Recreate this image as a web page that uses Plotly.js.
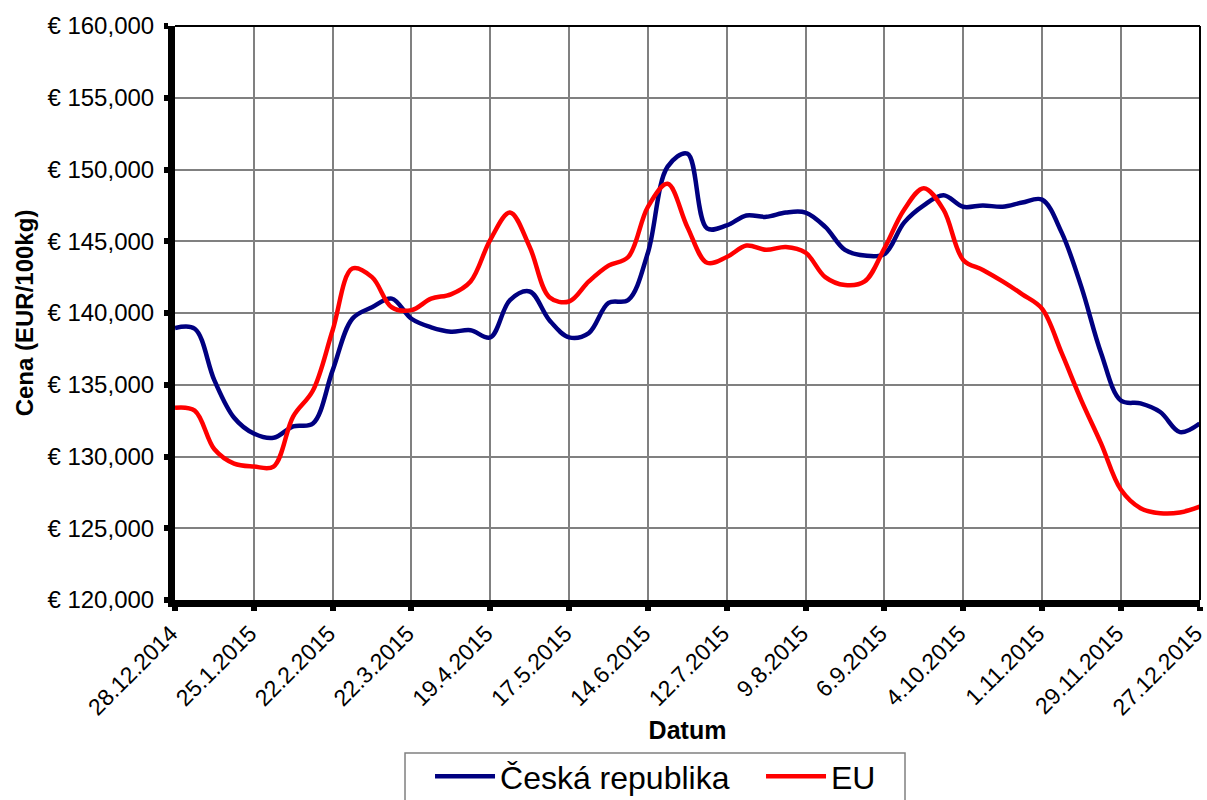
<!DOCTYPE html>
<html>
<head>
<meta charset="utf-8">
<script src="https://cdn.plot.ly/plotly-3.0.1.min.js"></script>
<style>html,body{margin:0;padding:0;background:#fff;}#chart{width:1207px;height:800px;}</style>
</head>
<body>
<div id="chart"></div>
<script>
var dates = ["2014-12-28","2015-01-04","2015-01-11","2015-01-18","2015-01-25","2015-02-01","2015-02-08","2015-02-15","2015-02-22","2015-03-01","2015-03-08","2015-03-15","2015-03-22","2015-03-29","2015-04-05","2015-04-12","2015-04-19","2015-04-26","2015-05-03","2015-05-10","2015-05-17","2015-05-24","2015-05-31","2015-06-07","2015-06-14","2015-06-21","2015-06-28","2015-07-05","2015-07-12","2015-07-19","2015-07-26","2015-08-02","2015-08-09","2015-08-16","2015-08-23","2015-08-30","2015-09-06","2015-09-13","2015-09-20","2015-09-27","2015-10-04","2015-10-11","2015-10-18","2015-10-25","2015-11-01","2015-11-08","2015-11-15","2015-11-22","2015-11-29","2015-12-06","2015-12-13","2015-12-20","2015-12-27"];

var ceskaRepublika = [138.95,138.9,135.3,132.7,131.6,131.3,132.1,132.3,136.0,139.6,140.4,141.0,139.6,139.0,138.7,138.8,138.3,140.9,141.5,139.5,138.3,138.6,140.7,140.9,144.2,150.2,151.1,145.9,146.1,146.8,146.7,147.0,147.0,146.0,144.4,144.0,144.1,146.3,147.5,148.2,147.4,147.5,147.4,147.7,147.9,145.6,141.8,137.2,133.9,133.7,133.1,131.7,132.3];

var eu = [133.4,133.2,130.5,129.5,129.3,129.3,132.8,134.6,138.8,143.1,142.5,140.4,140.2,141.0,141.3,142.2,145.1,147.0,144.6,141.1,140.8,142.2,143.3,143.9,147.4,149.0,146.0,143.5,143.9,144.7,144.4,144.6,144.2,142.5,141.95,142.2,144.5,147.2,148.7,147.2,143.7,143.0,142.2,141.3,140.3,137.2,133.9,130.9,127.7,126.4,126.05,126.1,126.5];

var tickDates = ["2014-12-28","2015-01-25","2015-02-22","2015-03-22","2015-04-19","2015-05-17","2015-06-14","2015-07-12","2015-08-09","2015-09-06","2015-10-04","2015-11-01","2015-11-29","2015-12-27"];
var tickLabels = ["28.12.2014","25.1.2015","22.2.2015","22.3.2015","19.4.2015","17.5.2015","14.6.2015","12.7.2015","9.8.2015","6.9.2015","4.10.2015","1.11.2015","29.11.2015","27.12.2015"];

var seriesNames = ["Česká republika", "EU"];

var FONT = "Liberation Sans, Arial, sans-serif";

var traces = [
  {x: dates, y: ceskaRepublika, name: seriesNames[0], type: "scatter", mode: "lines",
   line: {color: "#000080", width: 4.5, shape: "spline", smoothing: 1}},
  {x: dates, y: eu, name: seriesNames[1], type: "scatter", mode: "lines",
   line: {color: "#FF0000", width: 4.5, shape: "spline", smoothing: 1}}
];

var layout = {
  width: 1207, height: 800,
  margin: {l: 175, r: 7, t: 26, b: 200, autoexpand: false},
  paper_bgcolor: "#fff", plot_bgcolor: "#fff",
  separators: ",.",
  font: {family: FONT, color: "#000", size: 23},
  showlegend: true,
  xaxis: {
    type: "date",
    range: ["2014-12-28", "2015-12-27 03:00"],
    tickvals: tickDates, ticktext: tickLabels,
    tickangle: -45,
    tickfont: {family: FONT, size: 23, color: "#000"},
    ticklabeloverflow: "allow",
    ticklabelshift: -4,
    showgrid: true, gridcolor: "#808080", gridwidth: 2,
    showline: true, linecolor: "#000", linewidth: 7,
    ticks: "outside", ticklen: 4, tickwidth: 6, tickcolor: "#000",
    zeroline: false, automargin: false,
    title: {text: "<b>Datum</b>", font: {family: FONT, size: 25, color: "#000"}, standoff: 5}
  },
  yaxis: {
    range: [120, 160],
    tick0: 120, dtick: 5,
    tickformat: ".3f", tickprefix: "€ ",
    tickfont: {family: FONT, size: 24, color: "#000"},
    ticklabelstandoff: 5,
    showgrid: true, gridcolor: "#808080", gridwidth: 2,
    showline: true, linecolor: "#000", linewidth: 7,
    ticks: "outside", ticklen: 4, tickwidth: 6, tickcolor: "#000",
    zeroline: false, automargin: false,
    title: {text: "<b>Cena (EUR/100kg)</b>", font: {family: FONT, size: 24, color: "#000"}, standoff: 10}
  },
  legend: {
    orientation: "h",
    x: 0.2488, xanchor: "left",
    y: -0.3554, yanchor: "bottom",
    borderwidth: 0,
    bgcolor: "rgba(0,0,0,0)",
    font: {family: FONT, size: 32, color: "#000"},
    itemwidth: 60,
    entrywidth: 256
  },
  shapes: [
    {type: "line", xref: "paper", yref: "paper", x0: 0, x1: 1, y0: 1, y1: 1, line: {color: "#000", width: 2}},
    {type: "line", xref: "paper", yref: "paper", x0: 1, x1: 1, y0: 0, y1: 1, line: {color: "#000", width: 2}},
    {type: "rect", xref: "paper", yref: "paper", x0: 0.2244, x1: 0.7122, y0: -0.2666, y1: -0.3800, line: {color: "#808080", width: 1.5}, fillcolor: "rgba(0,0,0,0)"}
  ]
};

Plotly.newPlot("chart", traces, layout, {displayModeBar: false, staticPlot: true});
</script>
</body>
</html>
